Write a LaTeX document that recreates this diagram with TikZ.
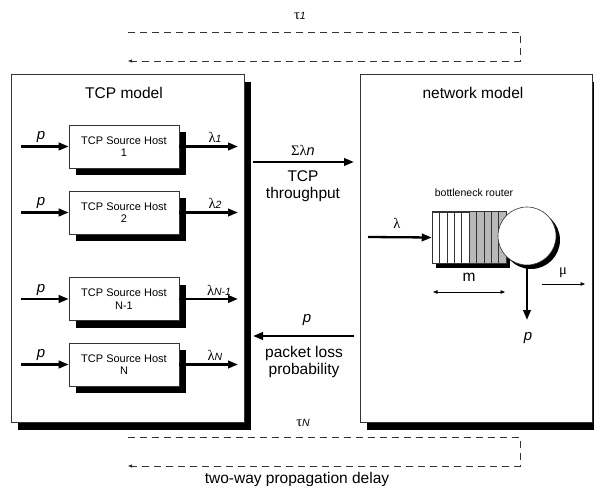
\documentclass[tikz,border=0pt]{standalone}
\usepackage{fontspec}
\setmainfont{Liberation Sans}
\newfontfamily\gk{Liberation Serif}
\usetikzlibrary{arrows.meta,shadows}
\begin{document}
\begin{tikzpicture}[x=1pt,y=-1pt,
  big/.style={font=\fontsize{15.5}{17}\selectfont},
  lbl/.style={font=\fontsize{14.5}{16}\selectfont,inner sep=0pt},
  plbl/.style={font=\fontsize{15}{16}\selectfont\itshape,inner sep=0pt},
  host/.style={draw=black!80,line width=0.6pt,fill=white,minimum width=110pt,minimum height=43pt,
    align=center,inner sep=0pt,font=\fontsize{11}{12.5}\selectfont,
    drop shadow={shadow xshift=7pt,shadow yshift=-7pt,fill=black,opacity=1}},
  model/.style={draw=black!80,line width=0.6pt,fill=white,inner sep=0pt,
    drop shadow={shadow xshift=7pt,shadow yshift=-8pt,fill=black,opacity=1}},
  fat/.style={line width=2.3pt,-{Triangle[length=10pt,width=7.5pt]}},
  thinarrow/.style={line width=0.6pt,-{Triangle[length=4.5pt,width=3.5pt]}},
  dline/.style={dash pattern=on 7pt off 5pt,line width=0.8pt,black!80},
]
\useasboundingbox (0,0) rectangle (594,486);

% model boxes
\node[model,minimum width=233pt,minimum height=348pt] (tcp) at (127.5,248) {};
\node[model,minimum width=232pt,minimum height=348pt] (net) at (476,248) {};
\node[big] (tcpt) at (124,93) {TCP model};
\node[big] (nett) at (473,93) {network model};

% hosts
\node[host] (h1) at (124,146.5) {TCP Source Host\\1};
\node[host] (h2) at (124,212.5) {TCP Source Host\\2};
\node[host] (h3) at (124,299) {TCP Source Host\\N-1};
\node[host] (h4) at (124,364.5) {TCP Source Host\\N};

\foreach \i/\y in {1/146.5,2/212.5,3/299,4/364.5}{
  \coordinate (in\i) at (21,\y);
  \coordinate (out\i) at (238,\y);
  \draw[fat] (in\i) -- (h\i.west);
  \draw[fat] (h\i.east) -- (out\i);
  \node[plbl] (p\i) at (41,\y-9) {p};
}
\node[lbl] (l1) at (215,137.5) {{\gk λ}{\fontsize{10.5}{12}\selectfont\itshape 1}};
\node[lbl] (l2) at (215,203.5) {{\gk λ}{\fontsize{10.5}{12}\selectfont\itshape 2}};
\node[lbl] (l3) at (219,290) {{\gk λ}{\fontsize{10.5}{12}\selectfont\itshape N-1}};
\node[lbl] (l4) at (215,355.5) {{\gk λ}{\fontsize{10.5}{12}\selectfont\itshape N}};

% central arrows
\coordinate (sa) at (253,162);
\coordinate (sb) at (354,162);
\draw[fat] (sa) -- (sb);
\node[lbl] (sig) at (303,150) {{\gk Σλ}{\itshape n}};
\node[big,align=center,font=\fontsize{15.5}{17}\selectfont] (thr) at (303,186) {TCP\\throughput};

\coordinate (pa) at (354,336);
\coordinate (pb) at (253,336);
\draw[fat] (pa) -- (pb);
\node[plbl] (pl) at (307,320) {p};
\node[big,align=center,font=\fontsize{15.5}{17}\selectfont] (plp) at (304,362) {packet loss\\probability};

% router
\node[font=\fontsize{10.5}{12}\selectfont] (br) at (474,193) {bottleneck router};
\node[draw=black!80,line width=0.5pt,fill=white,minimum width=74pt,minimum height=51pt,inner sep=0pt,
  drop shadow={shadow xshift=4pt,shadow yshift=-5pt,fill=black,opacity=1}] (q) at (469,237.5) {};
\foreach \k in {5,...,9}{
  \fill[black!28] (432+\k*7.4,212) rectangle (432+\k*7.4+7.4,263);
}
\foreach \k in {1,...,9}{
  \draw[black!80,line width=0.5pt] (432+\k*7.4,212) -- (432+\k*7.4,263);
}
\draw[black!80,line width=0.5pt] (q.north west) rectangle (q.south east);
\node[circle,draw=black!80,line width=0.6pt,fill=white,minimum size=58pt,inner sep=0pt,
  drop shadow={shadow xshift=4pt,shadow yshift=-4pt,fill=black,opacity=1}] (srv) at (527,236) {};

\coordinate (la) at (368,237);
\draw[fat] (la) -- (q.west);
\node[lbl] (lam) at (397,223) {\gk λ};

\coordinate (pd) at (527,320);
\draw[line width=2.3pt,-{Triangle[length=10pt,width=7.5pt]}] (srv.south) -- (pd);
\node[plbl] (pp) at (528,338) {p};

\coordinate (m1) at (433,292);
\coordinate (m2) at (505,292);
\draw[line width=0.6pt,{Triangle[length=4.5pt,width=3.5pt]}-{Triangle[length=4.5pt,width=3.5pt]}] (m1) -- (m2);
\node[big] (mm) at (469,277) {m};

\coordinate (mu1) at (542,284);
\coordinate (mu2) at (585,284);
\draw[thinarrow] (mu1) -- (mu2);
\node[lbl] (mu) at (563,273) {\gk μ};

% delays
\coordinate (ta) at (128,32);
\coordinate (tb) at (520,32);
\coordinate (tc) at (520,61);
\coordinate (td) at (128,61);
\draw[dline,-{Triangle[length=4pt,width=3pt]}] (ta) -- (tb) -- (tc) -- (td);
\node[lbl] (tau1) at (300,16) {{\gk τ}{\fontsize{10.5}{12}\selectfont\itshape 1}};

\coordinate (ba) at (128,437);
\coordinate (bb) at (520,437);
\coordinate (bc) at (520,466);
\coordinate (bd) at (128,466);
\draw[dline,-{Triangle[length=4pt,width=3pt]}] (ba) -- (bb) -- (bc) -- (bd);
\node[lbl] (taun) at (303,423) {{\gk τ}{\fontsize{10.5}{12}\selectfont\itshape N}};
\node[big] (twd) at (297,479) {two-way propagation delay};
\end{tikzpicture}
\end{document}
